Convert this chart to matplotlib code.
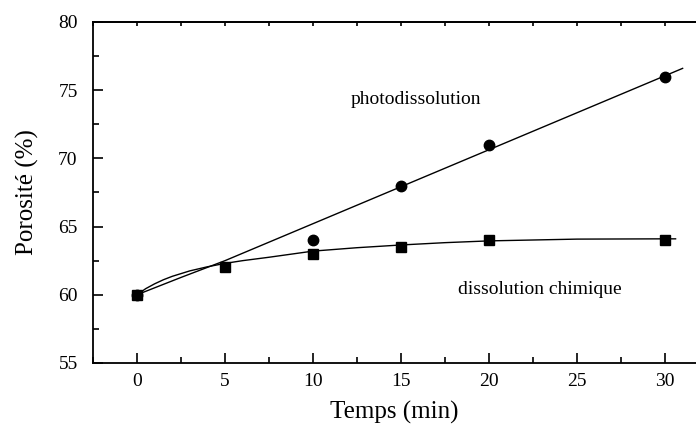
import numpy as np
import matplotlib.pyplot as plt
from matplotlib.ticker import MultipleLocator

plt.rcParams['font.family'] = ['Liberation Serif', 'DejaVu Serif']

# measured points
photo_t = [0, 10, 15, 20, 30]
photo_p = [60, 64, 68, 71, 76]
chem_t = [0, 5, 10, 15, 20, 30]
chem_p = [60, 62, 63, 63.5, 64, 64]

# fitted curves
photo_fit_t = [0, 2.5, 5, 31]
photo_fit_p = [60.0, 61.27, 62.5, 76.6]
chem_fit_t = [0, 0.5, 1, 1.5, 2, 3, 4, 5, 6, 7.5, 10, 12.5, 15, 17.5, 20, 25, 30, 30.6]
chem_fit_p = [60.0, 60.45, 60.8, 61.1, 61.35, 61.75, 62.05, 62.3, 62.5, 62.75,
              63.2, 63.45, 63.65, 63.82, 63.95, 64.08, 64.1, 64.1]

fig = plt.figure(figsize=(6.96, 4.28), dpi=100)
ax = fig.add_axes([0.1336, 0.152, 0.8664, 0.7966])

ax.plot(photo_fit_t, photo_fit_p, color='black', lw=1.0)
ax.plot(chem_fit_t, chem_fit_p, color='black', lw=1.0)
ax.plot(photo_t, photo_p, 'o', color='black', ms=7.5)
ax.plot(chem_t, chem_p, 's', color='black', ms=7)

ax.text(15.85, 74.3, 'photodissolution', fontsize=14, ha='center', va='center')
ax.text(22.9, 60.35, 'dissolution chimique', fontsize=14, ha='center', va='center')

ax.set_xlim(-2.5, 31.76)
ax.set_ylim(55, 80)
ax.xaxis.set_major_locator(MultipleLocator(5))
ax.xaxis.set_minor_locator(MultipleLocator(2.5))
ax.yaxis.set_major_locator(MultipleLocator(5))
ax.yaxis.set_minor_locator(MultipleLocator(2.5))

ax.spines['right'].set_visible(False)
for s in ['left', 'bottom', 'top']:
    ax.spines[s].set_linewidth(1.3)

ax.tick_params(axis='x', which='both', direction='in', labelsize=14, pad=7, width=1.2)
ax.tick_params(axis='y', which='both', direction='in', right=False, labelsize=14, pad=11, width=1.2)
ax.tick_params(which='major', length=7)
ax.tick_params(which='minor', length=4)

# small ticks along the top edge
top = ax.secondary_xaxis('top')
top.xaxis.set_major_locator(MultipleLocator(2.5))
top.tick_params(direction='in', length=3, width=1.2, labeltop=False)
top.spines['top'].set_linewidth(1.3)

ax.set_xlabel('Temps (min)', fontsize=18, labelpad=8)
ax.set_ylabel('Porosité (%)', fontsize=18, labelpad=14)

fig.savefig('out.png', dpi=100)
